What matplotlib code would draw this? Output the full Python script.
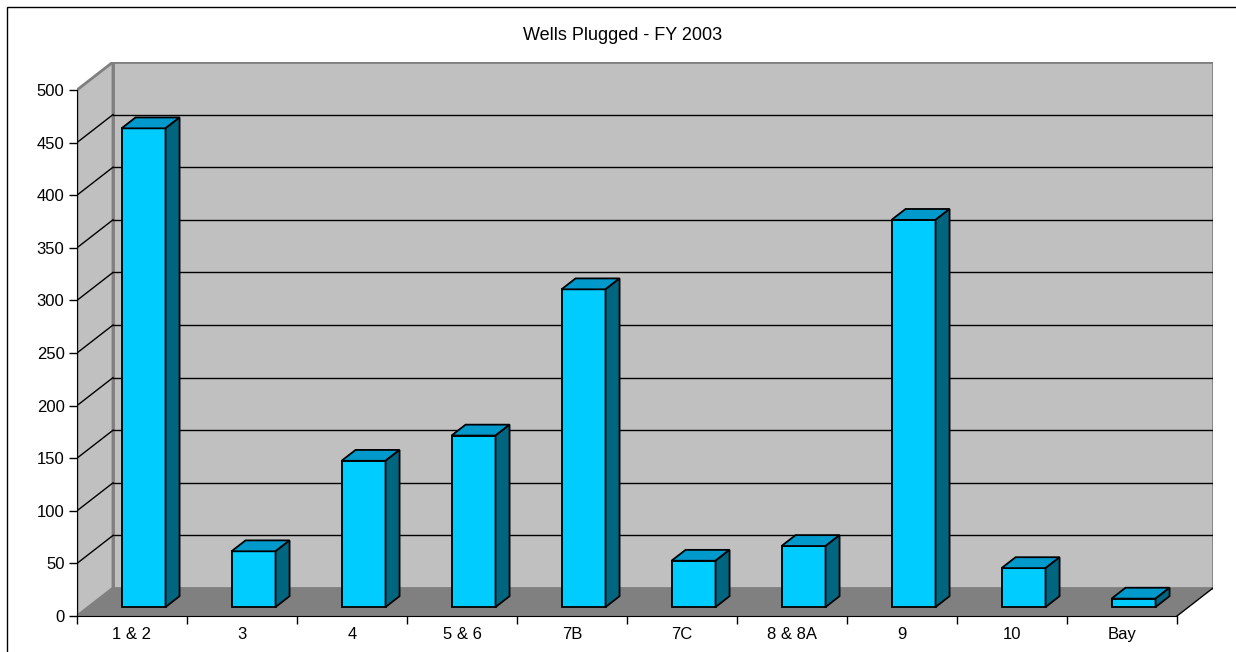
import numpy as np
import matplotlib
matplotlib.use("Agg")
import matplotlib.pyplot as plt
from matplotlib.patches import Polygon, Rectangle

# data
regions = ["1 & 2", "3", "4", "5 & 6", "7B", "7C", "8 & 8A", "9", "10", "Bay"]
wells = [455, 53, 139, 163, 302, 44, 58, 368, 37, 8]
y_ticks = list(range(0, 501, 50))

plt.rcParams["font.family"] = ["Liberation Sans", "DejaVu Sans"]

W, H = 1236, 652
fig = plt.figure(figsize=(W / 100, H / 100), dpi=100)

# fake 3d box (excel style), depth given in data units
n = len(regions)
ymax = 500
dx = 36 / 110.0          # depth shift in categories
dy = 28 / (527 / 500)    # depth shift in value units
x0, x1 = -0.5, n - 0.5

ax = fig.add_axes([77 / W, 36 / H, (1213 - 77) / W, (616 - 62) / H])
ax.set_xlim(x0, x1 + dx)
ax.set_ylim(0, ymax + dy)
ax.patch.set_visible(False)

wall = "#c0c0c0"
edge = "#808080"

# back wall
ax.add_patch(Rectangle((x0 + dx, dy), n, ymax, fc=wall, ec=edge, lw=2, zorder=1))
# side wall
ax.add_patch(Polygon([(x0, 0), (x0 + dx, dy), (x0 + dx, ymax + dy), (x0, ymax)],
                     closed=True, fc=wall, ec=edge, lw=2, zorder=1))
# gridlines on both walls
for v in y_ticks[1:-1]:
    ax.plot([x0 + dx, x1 + dx], [v + dy, v + dy], color="black", lw=1, zorder=1.5)
    ax.plot([x0, x0 + dx], [v, v + dy], color="black", lw=1, zorder=1.5)
# floor
ax.add_patch(Polygon([(x0, 0), (x1, 0), (x1 + dx, dy), (x0 + dx, dy)],
                     closed=True, fc=edge, ec="none", zorder=1.6))
ax.plot([x1, x1 + dx], [0, dy], color="black", lw=1, zorder=1.7)

# bars
f0, f1, w = 0.32, 0.71, 0.4
xs = np.arange(n)
cx = xs + f0 * dx
base = f0 * dy
ax.bar(cx, wells, width=w, bottom=base, color="#00ccff", edgecolor="black",
       lw=1.3, zorder=3)
ddx = (f1 - f0) * dx
ddy = (f1 - f0) * dy
for x, v in zip(cx, wells):
    l, r = x - w / 2, x + w / 2
    t = base + v
    ax.add_patch(Polygon([(l, t), (r, t), (r + ddx, t + ddy), (l + ddx, t + ddy)],
                         closed=True, fc="#0099cc", ec="black", lw=1.3,
                         joinstyle="miter", zorder=3))
    ax.add_patch(Polygon([(r, base), (r + ddx, base + ddy), (r + ddx, t + ddy), (r, t)],
                         closed=True, fc="#006680", ec="black", lw=1.3,
                         joinstyle="miter", zorder=3))

# axes
for s in ["top", "right"]:
    ax.spines[s].set_visible(False)
ax.spines["left"].set_bounds(0, ymax)
ax.spines["bottom"].set_bounds(x0, x1)
ax.spines["left"].set_color("black")
ax.spines["bottom"].set_color("black")

ax.set_yticks(y_ticks)
ax.tick_params(axis="y", length=6, width=1, labelsize=12, pad=3)
ax.set_xticks(np.arange(x0, x1 + 0.01, 1.0))
ax.set_xticks(xs, minor=True)
ax.set_xticklabels(regions, minor=True)
ax.tick_params(axis="x", which="major", length=6, width=1, labelbottom=False)
ax.tick_params(axis="x", which="minor", length=0, labelsize=12, pad=8)

fig.text(623 / W, 1 - 35 / H, "Wells Plugged - FY 2003", ha="center", va="center",
         fontsize=13)

# chart border
fig.add_artist(Rectangle((7 / W, -0.5), 2, 1.5 - 7 / H, transform=fig.transFigure,
                         fill=False, ec="black", lw=1))

fig.savefig("out.png", dpi=100)
